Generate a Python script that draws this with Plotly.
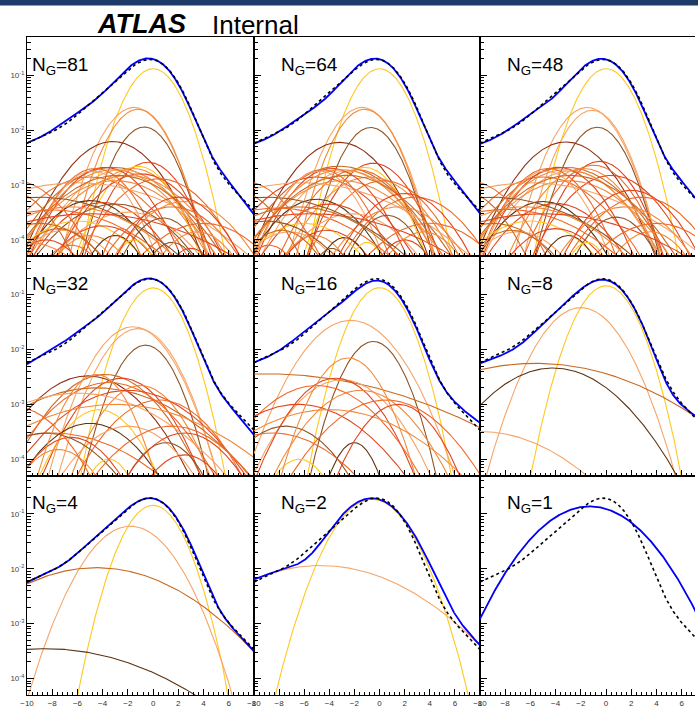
import numpy as np
import plotly.graph_objects as go
from plotly.subplots import make_subplots

# ---------------- data ----------------
x_range = [-10.0, 8.0]
y_range = [5e-5, 0.5]
x_tick_values = [-10, -8, -6, -4, -2, 0, 2, 4, 6, 8]
y_tick_values = [1e-4, 1e-3, 1e-2, 1e-1]
y_tick_labels = ["10<sup>-4</sup>", "10<sup>-3</sup>", "10<sup>-2</sup>", "10<sup>-1</sup>"]
panel_counts = ["81", "64", "48", "32", "16", "8", "4", "2", "1"]

# target distribution (black dashed)
target_amp = [0.144, 0.060, 0.0105, 0.00035]
target_mu = [0.0, -1.8, -4.5, -8.5]
target_sigma = [1.45, 2.15, 4.75, 6.0]

# Gaussian components of each fit: amplitude, mean, width, colour index
ng81_amp = [0.132, 0.026, 0.024, 0.0114, 0.0062, 0.0026, 0.0022, 0.0021, 0.0020, 0.0019,
            0.0014, 0.0016, 0.0015, 0.0013, 0.0012, 0.0011, 0.0021, 0.0019, 0.0020, 0.0018,
            0.0015, 0.00052, 0.00048, 0.00045, 0.00040, 0.00035, 0.00032, 0.00025, 0.00022, 0.00020,
            0.00018, 0.00015, 0.00012, 0.00012, 0.00010, 0.00009, 0.00014, 0.00010, 0.00008, 0.00007,
            0.00040, 0.00050, 0.00030, 0.00009, 0.00060, 0.00016, 0.00016, 0.0012, 0.0008, 0.0006,
            0.0002]
ng81_mu = [0.0, -1.5, -1.2, -0.7, -3.2, -0.4, -1.2, -3.2, -1.6, -2.5,
           -5.0, -1.0, -2.0, 0.5, -3.0, -6.0, -3.8, -3.2, -4.6, -4.8,
           -2.8, -5.0, -4.0, -3.0, -6.5, -8.0, -2.0, 0.8, -6.0, -9.0,
           -4.0, -7.0, -5.0, -3.0, -8.5, 1.5, 3.5, -1.5, -6.5, 3.0,
           1.5, 2.5, -5.0, -10.0, -9.0, -7.5, -2.5, -11.0, -11.5, 2.0,
           4.0]
ng81_sigma = [1.45, 1.65, 1.55, 1.5, 2.3, 1.8, 1.8, 3.0, 2.2, 2.6,
              3.0, 2.5, 3.0, 2.5, 3.2, 5.5, 2.2, 2.8, 2.0, 1.9,
              3.2, 2.4, 2.6, 3.0, 4.0, 4.5, 3.0, 1.8, 3.0, 3.0,
              2.5, 2.5, 2.0, 1.5, 2.0, 1.5, 2.0, 1.2, 1.8, 1.5,
              2.6, 2.6, 6.0, 3.0, 5.0, 2.2, 1.0, 2.5, 2.2, 2.2,
              3.0]
ng81_colour = [0, 1, 2, 6, 8, 4, 0, 5, 2, 1,
               3, 4, 2, 3, 2, 1, 4, 2, 3, 1,
               5, 7, 4, 6, 2, 3, 1, 6, 0, 5,
               4, 1, 2, 7, 4, 6, 2, 0, 3, 4,
               3, 2, 4, 2, 6, 5, 3, 3, 5, 4,
               3]

ng64_amp = [0.132, 0.026, 0.024, 0.0112, 0.0060, 0.0025, 0.0021, 0.0022, 0.0019, 0.0018,
            0.0014, 0.0014, 0.0012, 0.0012, 0.0011, 0.0020, 0.0019, 0.0019, 0.0018, 0.0015,
            0.00055, 0.00045, 0.00040, 0.00038, 0.00030, 0.00028, 0.00020, 0.00022, 0.00015, 0.00014,
            0.00012, 0.00011, 0.00010, 0.00014, 0.00060, 0.00030, 0.00060, 0.00015, 0.00009, 0.00008,
            0.00007, 0.0012, 0.0008, 0.0004, 0.0007, 0.0002]
ng64_mu = [0.0, -1.4, -1.2, -0.7, -3.2, -0.5, -1.2, -3.2, -1.8, -2.5,
           -5.0, -0.8, 0.3, -3.0, -6.2, -3.8, -3.0, -4.6, -4.8, -2.6,
           -5.0, -4.0, -6.5, -8.2, -2.2, 0.6, -6.0, -9.0, -4.2, -7.2,
           -5.2, -2.8, 2.0, 3.5, 2.8, -5.5, -9.0, -7.8, -1.0, -8.8,
           -3.8, -11.0, -11.5, 1.5, 2.0, 4.0]
ng64_sigma = [1.45, 1.65, 1.55, 1.5, 2.3, 1.9, 1.8, 3.0, 2.3, 2.6,
              3.0, 2.6, 2.4, 3.2, 5.4, 2.2, 2.8, 2.0, 1.9, 3.2,
              2.4, 2.6, 4.0, 4.5, 2.8, 1.7, 2.8, 3.2, 2.2, 2.4,
              1.8, 1.4, 1.6, 2.0, 2.6, 6.0, 5.0, 2.0, 1.1, 1.6,
              1.2, 2.5, 2.2, 2.6, 2.3, 3.0]
ng64_colour = [0, 1, 2, 6, 8, 4, 0, 5, 3, 1,
               4, 2, 3, 2, 1, 4, 2, 3, 1, 5,
               7, 4, 5, 3, 1, 6, 0, 6, 4, 1,
               2, 7, 4, 2, 3, 4, 6, 5, 0, 3,
               6, 3, 5, 2, 4, 3]

ng48_amp = [0.132, 0.026, 0.023, 0.0113, 0.0061, 0.0027, 0.0023, 0.0021, 0.0020, 0.0018,
            0.0014, 0.0015, 0.0012, 0.0011, 0.0021, 0.0019, 0.0020, 0.0018, 0.0015, 0.00050,
            0.00046, 0.00040, 0.00036, 0.00026, 0.00022, 0.00020, 0.00016, 0.00014, 0.00012, 0.00014,
            0.00060, 0.00030, 0.00060, 0.00015, 0.00009, 0.0012, 0.0008, 0.0004, 0.0008, 0.0002]
ng48_mu = [0.0, -1.5, -1.1, -0.7, -3.2, -0.5, -1.0, -3.2, -1.8, -2.8,
           -5.0, 0.4, -3.0, -6.0, -3.8, -3.2, -4.6, -4.8, -2.8, -5.0,
           -4.0, -6.5, -8.0, 0.8, -6.0, -9.0, -4.0, -7.0, -3.0, 3.5,
           2.8, -5.0, -9.0, -7.5, -1.5, -11.0, -11.5, 1.5, 2.0, 4.0]
ng48_sigma = [1.45, 1.65, 1.55, 1.5, 2.3, 1.8, 2.0, 3.0, 2.2, 2.6,
              3.0, 2.4, 3.2, 5.5, 2.2, 2.8, 2.0, 1.9, 3.2, 2.4,
              2.6, 4.0, 4.5, 1.8, 3.0, 3.0, 2.4, 2.5, 1.5, 2.0,
              2.6, 6.0, 5.0, 2.2, 1.2, 2.5, 2.2, 2.6, 2.3, 3.0]
ng48_colour = [0, 1, 1, 6, 8, 4, 3, 5, 2, 1,
               3, 4, 2, 1, 4, 2, 3, 1, 5, 7,
               4, 2, 3, 6, 0, 5, 4, 1, 7, 2,
               3, 4, 6, 5, 0, 3, 5, 2, 4, 3]

ng32_amp = [0.133, 0.026, 0.024, 0.0120, 0.0033, 0.0035, 0.0030, 0.0025, 0.0022, 0.0020,
            0.0018, 0.0016, 0.0012, 0.0010, 0.00080, 0.00030, 0.00045, 0.00040, 0.00030, 0.00025,
            0.00020, 0.00015, 0.00012, 0.00010, 0.00040, 0.0009, 0.0035, 0.0003]
ng32_mu = [0.0, -1.6, -1.2, -0.6, -5.2, -3.8, -2.5, -3.5, -1.0, -4.5,
           -2.0, -6.0, 0.5, -3.0, -4.3, -8.0, -5.0, -2.0, -8.5, -6.5,
           1.0, -7.5, 2.5, -3.5, 1.5, -11.0, -4.5, 2.5]
ng32_sigma = [1.45, 1.9, 1.8, 1.5, 2.8, 2.6, 2.2, 3.0, 2.0, 4.5,
              3.5, 4.5, 2.6, 5.2, 2.0, 4.5, 2.6, 2.6, 3.0, 2.2,
              1.8, 2.0, 2.0, 1.3, 3.0, 2.5, 1.6, 2.4]
ng32_colour = [0, 1, 1, 6, 8, 5, 4, 3, 2, 5,
               4, 1, 3, 2, 0, 3, 7, 1, 6, 4,
               6, 2, 4, 0, 3, 3, 2, 4]

ng16_amp = [0.134, 0.034, 0.0140, 0.0036, 0.0028, 0.0030, 0.0022, 0.0018, 0.0010, 0.0012,
            0.0008, 0.0004, 0.0002, 0.0001, 0.0003, 0.0070, 0.0010]
ng16_mu = [0.0, -2.3, -0.5, -9.0, -3.0, -3.5, -5.0, -1.5, -6.5, 0.5,
           -4.0, -7.5, -2.0, -6.4, -8.5, -2.5, 1.5]
ng16_sigma = [1.45, 2.3, 1.5, 8.0, 2.5, 2.2, 3.0, 2.6, 3.5, 3.0,
              4.5, 2.5, 1.2, 1.6, 3.5, 1.7, 2.0]
ng16_colour = [0, 1, 6, 5, 1, 4, 3, 2, 4, 3,
               2, 6, 7, 0, 3, 2, 4]

ng8_amp = [0.145, 0.058, 0.0056, 0.0046, 0.00032]
ng8_mu = [0.0, -2.0, -5.6, -4.2, -10.0]
ng8_sigma = [1.5, 2.0, 6.0, 3.27, 4.4]
ng8_colour = [0, 1, 5, 7, 1]

ng4_amp = [0.144, 0.060, 0.0105, 0.00035]
ng4_mu = [0.0, -1.8, -4.5, -8.5]
ng4_sigma = [1.5, 2.15, 4.7, 6.0]
ng4_colour = [0, 1, 5, 7]

ng2_amp = [0.186, 0.0115]
ng2_mu = [-0.6, -4.7]
ng2_sigma = [1.9, 4.9]
ng2_colour = [0, 1]

ng1_amp = [0.138]
ng1_mu = [-1.3]
ng1_sigma = [2.83]
ng1_colour = [0]

# ---------------- styling ----------------
palette = ["#FFC81E", "#F7A466", "#F28A3A", "#EE6A28", "#E2451E",
           "#C86A22", "#8F5424", "#5A3312", "#8E2E12"]
FONT = "Liberation Sans, Arial, Helvetica, sans-serif"

panels = [
    (ng81_amp, ng81_mu, ng81_sigma, ng81_colour),
    (ng64_amp, ng64_mu, ng64_sigma, ng64_colour),
    (ng48_amp, ng48_mu, ng48_sigma, ng48_colour),
    (ng32_amp, ng32_mu, ng32_sigma, ng32_colour),
    (ng16_amp, ng16_mu, ng16_sigma, ng16_colour),
    (ng8_amp, ng8_mu, ng8_sigma, ng8_colour),
    (ng4_amp, ng4_mu, ng4_sigma, ng4_colour),
    (ng2_amp, ng2_mu, ng2_sigma, ng2_colour),
    (ng1_amp, ng1_mu, ng1_sigma, ng1_colour),
]


def gauss(x, a, m, s):
    return a * np.exp(-0.5 * ((x - m) / s) ** 2)


def mixture(x, amps, mus, sigmas):
    return np.sum([gauss(x, a, m, s) for a, m, s in zip(amps, mus, sigmas)], axis=0)


W, H = 698, 708
ML, MR, MT, MB = 27, 0, 37, 5
PW, PH = W - ML - MR, H - MT - MB
col_px = [228, 227, 216]
col_left = [27, 255, 482]
row_top = [37, 259, 481]


def xp(px):
    return (px - ML) / PW


def yp(py):
    return (H - MB - py) / PH


fig = make_subplots(rows=3, cols=3, horizontal_spacing=0, vertical_spacing=0,
                    column_widths=col_px)

xs = np.linspace(x_range[0], x_range[1], 721)
target = mixture(xs, target_amp, target_mu, target_sigma)
floor = 1e-12

for i, (amps, mus, sigmas, cols) in enumerate(panels):
    assert len(amps) == len(mus) == len(sigmas) == len(cols)
    r, c = i // 3 + 1, i % 3 + 1
    for a, m, s, ci in zip(amps, mus, sigmas, cols):
        fig.add_trace(go.Scatter(x=xs, y=np.maximum(gauss(xs, a, m, s), floor), mode="lines",
                                 line=dict(color=palette[ci], width=1.1),
                                 showlegend=False, hoverinfo="skip"), row=r, col=c)
    total = mixture(xs, amps, mus, sigmas)
    fig.add_trace(go.Scatter(x=xs, y=total, mode="lines",
                             line=dict(color="#0000FF", width=1.8),
                             showlegend=False, hoverinfo="skip"), row=r, col=c)
    fig.add_trace(go.Scatter(x=xs, y=target, mode="lines",
                             line=dict(color="black", width=1.6, dash="3px,3px"),
                             showlegend=False, hoverinfo="skip"), row=r, col=c)

    # panel label
    lx = col_left[c - 1] + (5 if c == 1 else 27)
    fig.add_annotation(xref="paper", yref="paper", x=xp(lx - 2), y=yp(row_top[r - 1] + 15),
                       xanchor="left", yanchor="top", showarrow=False,
                       text=f"N<sub>G</sub>={panel_counts[i]}",
                       font=dict(family=FONT, size=19, color="black"))

y_minor = [k * 10.0 ** d for d in range(-5, 0) for k in range(2, 10)]
for r in range(1, 4):
    for c in range(1, 4):
        xr = x_range if c < 3 else [x_range[0], x_range[0] + (W - col_left[2]) / 12.667]
        fig.update_xaxes(row=r, col=c, range=xr, showgrid=False, zeroline=False,
                         showline=True, linecolor="black", linewidth=1.2, mirror=True,
                         tickmode="array", tickvals=x_tick_values,
                         ticks="inside", ticklen=6, tickwidth=1, tickcolor="black",
                         minor=dict(ticks="inside", ticklen=3, tickwidth=1, tickcolor="black",
                                    tickmode="linear", tick0=-10, dtick=0.4),
                         showticklabels=(r == 3),
                         tickfont=dict(size=8, color="#333", family=FONT))
        fig.update_yaxes(row=r, col=c, type="log",
                         range=[np.log10(y_range[0]), np.log10(y_range[1])],
                         showgrid=False, zeroline=False,
                         showline=True, linecolor="black", linewidth=1.2, mirror=(c < 3),
                         tickmode="array", tickvals=y_tick_values, ticktext=y_tick_labels,
                         ticks="inside", ticklen=7, tickwidth=1, tickcolor="black",
                         minor=dict(ticks="inside", ticklen=4, tickwidth=1, tickcolor="black",
                                    tickmode="array", tickvals=y_minor),
                         showticklabels=(c == 1),
                         tickfont=dict(size=8, color="#444", family=FONT))

# header
fig.add_shape(type="rect", xref="paper", yref="paper", x0=xp(-5), x1=xp(W + 5),
              y0=yp(5), y1=yp(-5), fillcolor="#1d3a68", line=dict(width=0), layer="above")
fig.add_annotation(xref="paper", yref="paper", x=xp(95), y=yp(7), xanchor="left", yanchor="top",
                   showarrow=False, text="<b><i>ATLAS</i></b>",
                   font=dict(family=FONT, size=27, color="black"))
fig.add_annotation(xref="paper", yref="paper", x=xp(211), y=yp(7.5), xanchor="left", yanchor="top",
                   showarrow=False, text="Internal",
                   font=dict(family=FONT, size=26, color="black"))

fig.update_layout(width=W, height=H, margin=dict(l=ML, r=MR, t=MT, b=MB),
                  paper_bgcolor="white", plot_bgcolor="white", showlegend=False)

fig.write_html("out.html")
